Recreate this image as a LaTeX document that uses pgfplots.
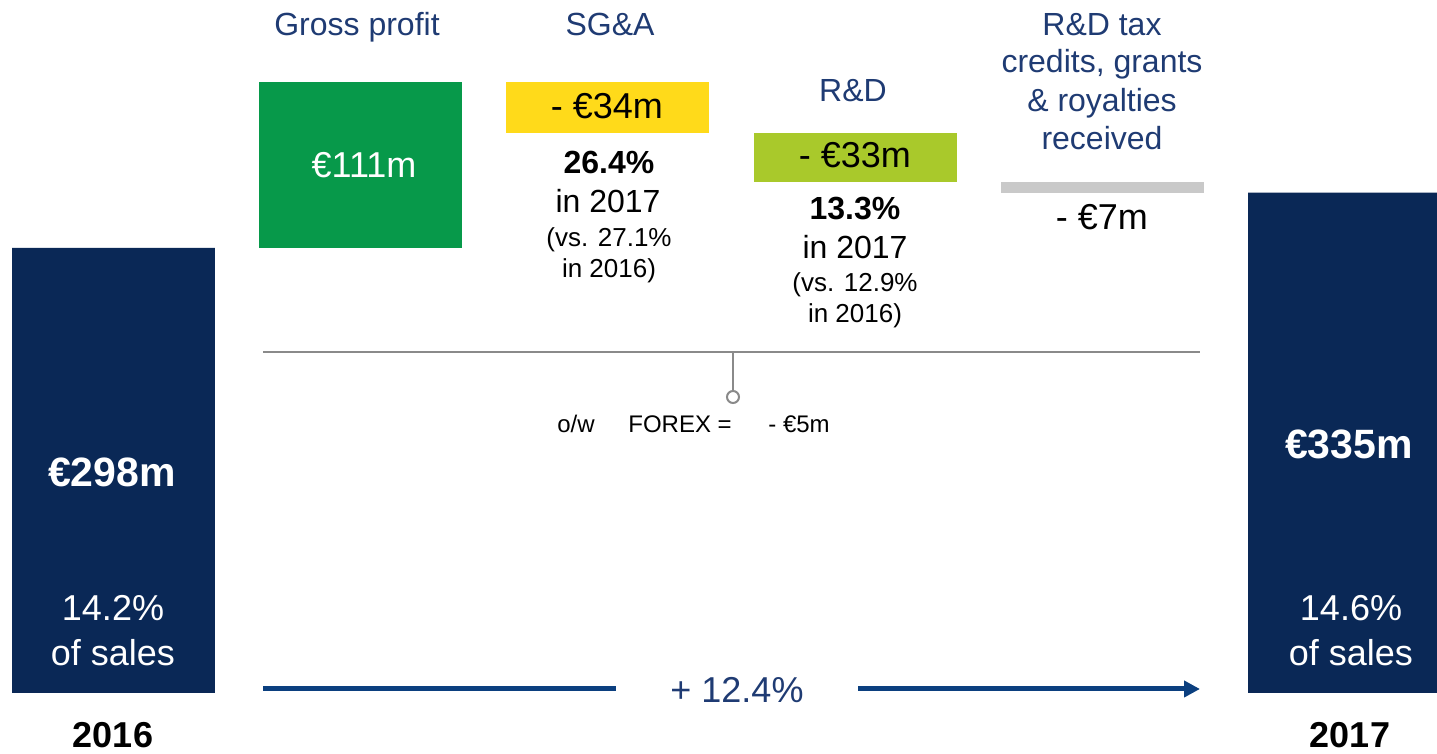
\documentclass[border=0pt]{standalone}
\usepackage{pgfplots}
\pgfplotsset{compat=1.18}
\usepackage{fontspec}
\setmainfont{Liberation Sans}
\usetikzlibrary{arrows.meta}

\definecolor{navybar}{HTML}{0A2856}
\definecolor{gpgreen}{HTML}{07994A}
\definecolor{sgayellow}{HTML}{FFDA1A}
\definecolor{rdolive}{HTML}{A9C92B}
\definecolor{taxgray}{HTML}{C9C9C9}
\definecolor{titleblue}{HTML}{1F3B73}
\definecolor{arrowblue}{HTML}{0B3F7F}
\definecolor{linegray}{HTML}{8A8A8A}

\newcommand\fs[1]{\fontsize{#1}{1.2\dimexpr#1\relax}\selectfont}

\begin{document}
\begin{tikzpicture}
% waterfall: 1 px of the reference = 0.5pt
\begin{axis}[
  at={(0,0)}, anchor=south west,
  width=718.5pt, height=377pt, scale only axis,
  hide axis,
  xmin=-0.4591, xmax=5.354,
  ymin=-40.85, ymax=464.07,
  ybar stacked, bar width=0.821,
]
% invisible base of the floating bars
\addplot[fill=none, draw=none] coordinates {(0,0) (1,298) (2,375) (3,342) (4,335) (5,0)};
\addplot[fill=navybar, draw=none] coordinates {(0,298) (1,0) (2,0) (3,0) (4,0) (5,335)};
\addplot[fill=gpgreen, draw=none] coordinates {(0,0) (1,111) (2,0) (3,0) (4,0) (5,0)};
\addplot[fill=sgayellow, draw=none] coordinates {(0,0) (1,0) (2,34) (3,0) (4,0) (5,0)};
\addplot[fill=rdolive, draw=none] coordinates {(0,0) (1,0) (2,0) (3,33) (4,0) (5,0)};
\addplot[fill=taxgray, draw=none] coordinates {(0,0) (1,0) (2,0) (3,0) (4,7) (5,0)};
\end{axis}

\begin{scope}[x=0.5pt, y=-0.5pt, shift={(0pt,377pt)}, every node/.style={inner sep=0pt, anchor=base}]
% column titles
\node[titleblue, font=\fs{16pt}] at (357,36) {Gross profit};
\node[titleblue, font=\fs{16pt}] at (610,36) {SG\&A};
\node[titleblue, font=\fs{16pt}] at (853,102) {R\&D};
\node[titleblue, font=\fs{16pt}] at (1102,36) {R\&D tax};
\node[titleblue, font=\fs{16pt}] at (1102,73) {credits, grants};
\node[titleblue, font=\fs{16pt}] at (1102,112) {\& royalties};
\node[titleblue, font=\fs{16pt}] at (1102,150) {received};

% values
\node[white, font=\fs{18pt}] at (364,178) {€111m};
\node[font=\fs{18pt}] at (607,119) {- €34m};
\node[font=\fs{18pt}] at (855,168) {- €33m};
\node[font=\fs{18pt}] at (1102,230) {- €7m};

% SG&A ratio
\node[font=\fs{16pt}\bfseries] at (609,174) {26.4\%};
\node[font=\fs{16pt}] at (608,213) {in 2017};
\node[font=\fs{13pt}] at (609,247) {(vs. 27.1\%};
\node[font=\fs{13pt}] at (609,278) {in 2016)};
% R&D ratio
\node[font=\fs{16pt}\bfseries] at (855,220) {13.3\%};
\node[font=\fs{16pt}] at (855,259) {in 2017};
\node[font=\fs{13pt}] at (855,292) {(vs. 12.9\%};
\node[font=\fs{13pt}] at (855,323) {in 2016)};

% FOREX bracket
\draw[linegray, line width=1pt] (263,352) -- (1200,352);
\draw[linegray, line width=1pt] (733,352) -- (733,391);
\draw[linegray, line width=1pt, fill=white] (733,397) circle (3pt);
\node[font=\fs{12pt}, anchor=base west] at (557,433) {o/w};
\node[font=\fs{12pt}, anchor=base west] at (628,433) {FOREX =};
\node[font=\fs{12pt}, anchor=base west] at (768,433) {- €5m};

% bar labels
\node[white, font=\fs{20.5pt}\bfseries] at (112,487) {€298m};
\node[white, font=\fs{18pt}] at (113,621) {14.2\%};
\node[white, font=\fs{18pt}] at (113,666) {of sales};
\node[white, font=\fs{20.5pt}\bfseries] at (1349,459) {€335m};
\node[white, font=\fs{18pt}] at (1351,621) {14.6\%};
\node[white, font=\fs{18pt}] at (1351,666) {of sales};

% years
\node[font=\fs{18pt}\bfseries] at (113,748) {2016};
\node[font=\fs{18pt}\bfseries] at (1350,748) {2017};

% growth arrow
\draw[arrowblue, line width=2.5pt] (263,689) -- (616,689);
\draw[arrowblue, line width=2.5pt, -{Triangle[length=8pt, width=8pt]}] (858,689) -- (1200,689);
\node[titleblue, font=\fs{18pt}] at (737,703) {+ 12.4\%};

\pgfresetboundingbox
\path (0,0) rectangle (1437,754);
\end{scope}
\end{tikzpicture}
\end{document}
